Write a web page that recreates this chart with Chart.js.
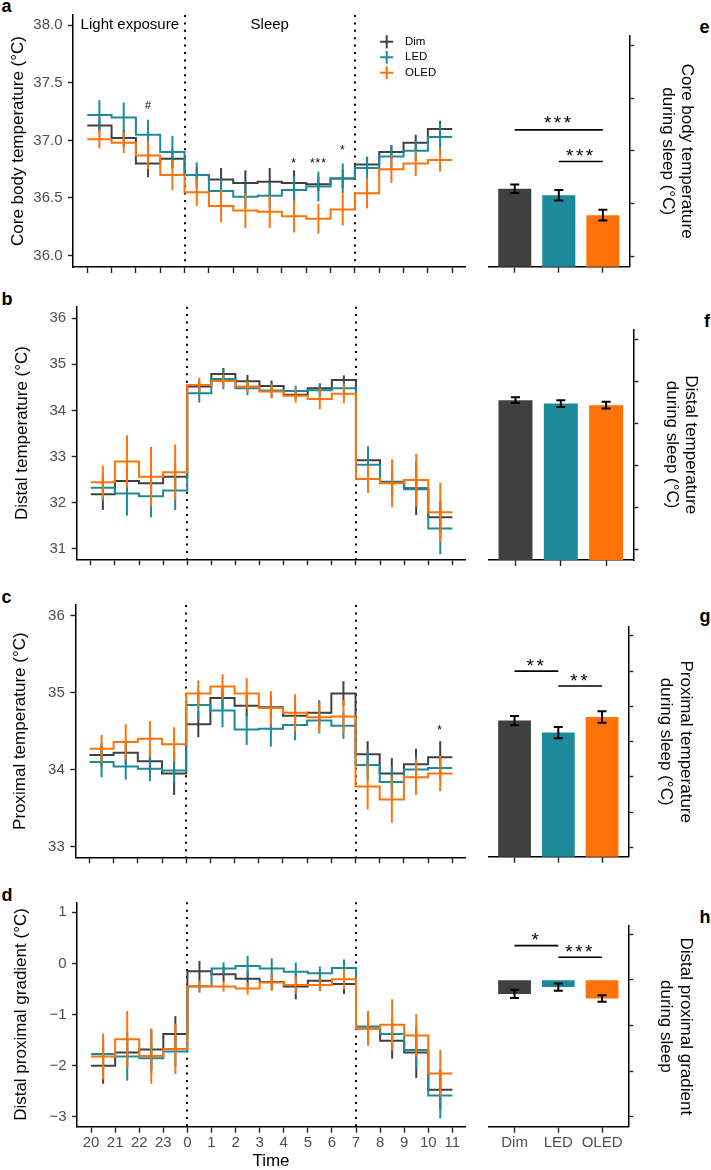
<!DOCTYPE html>
<html>
<head>
<meta charset="utf-8">
<script src="https://cdn.jsdelivr.net/npm/chart.js@4.4.1/dist/chart.umd.min.js"></script>
<style>
  html, body { margin: 0; padding: 0; background: #fff; width: 711px; height: 1170px; overflow: hidden; position: relative; }
  .lab { position: absolute; font: bold 18px "Liberation Sans", Arial, sans-serif; line-height: 18px; color: #000; }
</style>
</head>
<body>
<div class="lab" style="left:1.5px;top:-3px">a</div>
<div class="lab" style="left:1.5px;top:290px">b</div>
<div class="lab" style="left:1.5px;top:588px">c</div>
<div class="lab" style="left:1.5px;top:886px">d</div>
<div class="lab" style="left:699.5px;top:18px">e</div>
<div class="lab" style="left:704px;top:311.5px">f</div>
<div class="lab" style="left:699.5px;top:607px">g</div>
<div class="lab" style="left:699.5px;top:908px">h</div>
<script>
const FONT = '"Liberation Sans", Arial, Helvetica, sans-serif';
Chart.defaults.font.family = FONT;

// hourly bins from 20:00 to 11:00
const hourLabels = ['20', '21', '22', '23', '0', '1', '2', '3', '4', '5', '6', '7', '8', '9', '10', '11'];
const groups = ['Dim', 'LED', 'OLED'];
const colors = ['#404040', '#1c8a9b', '#ff7109'];

// core body temperature (a)
const coreDim  = [37.13, 37.02, 36.80, 36.84, 36.70, 36.66, 36.63, 36.64, 36.63, 36.62, 36.67, 36.79, 36.90, 36.98, 37.10];
const coreLED  = [37.22, 37.20, 37.05, 36.90, 36.70, 36.56, 36.51, 36.52, 36.57, 36.60, 36.67, 36.76, 36.86, 36.91, 37.03];
const coreOLED = [37.01, 36.98, 36.87, 36.70, 36.55, 36.43, 36.39, 36.38, 36.34, 36.32, 36.40, 36.54, 36.75, 36.80, 36.83];
const coreDimErr  = [0.06, 0.07, 0.12, 0.08, 0.07, 0.10, 0.11, 0.12, 0.11, 0.06, 0.08, 0.06, 0.06, 0.07, 0.07];
const coreLEDErr  = [0.13, 0.13, 0.13, 0.14, 0.11, 0.11, 0.10, 0.11, 0.12, 0.13, 0.13, 0.10, 0.10, 0.09, 0.12];
const coreOLEDErr = [0.08, 0.09, 0.12, 0.13, 0.12, 0.14, 0.15, 0.14, 0.14, 0.13, 0.14, 0.13, 0.12, 0.11, 0.10];

// distal temperature (b)
const distDim  = [32.18, 32.47, 32.42, 32.56, 34.52, 34.79, 34.63, 34.53, 34.34, 34.48, 34.66, 32.92, 32.45, 32.31, 31.68];
const distLED  = [32.32, 32.20, 32.14, 32.26, 34.37, 34.68, 34.48, 34.43, 34.42, 34.44, 34.48, 32.82, 32.44, 32.29, 31.44];
const distOLED = [32.44, 32.89, 32.56, 32.66, 34.55, 34.64, 34.52, 34.41, 34.32, 34.25, 34.36, 32.51, 32.42, 32.49, 31.79];
const distDimErr  = [0.34, 0.30, 0.30, 0.30, 0.12, 0.13, 0.14, 0.12, 0.10, 0.10, 0.10, 0.20, 0.30, 0.58, 0.35];
const distLEDErr  = [0.30, 0.48, 0.46, 0.42, 0.20, 0.22, 0.15, 0.15, 0.12, 0.15, 0.15, 0.40, 0.30, 0.35, 0.56];
const distOLEDErr = [0.36, 0.57, 0.65, 0.60, 0.16, 0.13, 0.12, 0.15, 0.15, 0.23, 0.20, 0.30, 0.52, 0.57, 0.64];

// proximal temperature (c)
const proxDim  = [34.19, 34.22, 34.11, 33.95, 34.59, 34.93, 34.83, 34.81, 34.70, 34.74, 34.99, 34.20, 33.95, 34.07, 34.16];
const proxLED  = [34.10, 34.04, 34.01, 33.99, 34.84, 34.77, 34.52, 34.53, 34.58, 34.64, 34.57, 34.06, 33.84, 34.00, 34.02];
const proxOLED = [34.27, 34.36, 34.40, 34.33, 34.99, 35.08, 34.99, 34.80, 34.74, 34.68, 34.69, 33.78, 33.61, 33.90, 33.95];
const proxDimErr  = [0.15, 0.15, 0.15, 0.28, 0.17, 0.14, 0.14, 0.14, 0.14, 0.16, 0.16, 0.17, 0.20, 0.20, 0.21];
const proxLEDErr  = [0.20, 0.17, 0.16, 0.16, 0.18, 0.22, 0.20, 0.23, 0.20, 0.17, 0.17, 0.20, 0.20, 0.17, 0.15];
const proxOLEDErr = [0.18, 0.23, 0.23, 0.22, 0.17, 0.16, 0.20, 0.22, 0.24, 0.20, 0.22, 0.30, 0.30, 0.23, 0.23];

// distal proximal gradient (d)
const gradDim  = [-2.00, -1.74, -1.68, -1.38, -0.15, -0.21, -0.30, -0.36, -0.45, -0.34, -0.40, -1.27, -1.51, -1.74, -2.47];
const gradLED  = [-1.77, -1.82, -1.85, -1.72, -0.45, -0.10, -0.05, -0.10, -0.16, -0.19, -0.09, -1.23, -1.38, -1.69, -2.58];
const gradOLED = [-1.82, -1.48, -1.81, -1.67, -0.44, -0.45, -0.49, -0.37, -0.42, -0.42, -0.31, -1.27, -1.20, -1.41, -2.15];
const gradDimErr  = [0.35, 0.30, 0.40, 0.35, 0.20, 0.15, 0.15, 0.15, 0.25, 0.20, 0.20, 0.20, 0.35, 0.50, 0.40];
const gradLEDErr  = [0.30, 0.47, 0.30, 0.30, 0.12, 0.12, 0.20, 0.20, 0.18, 0.13, 0.17, 0.30, 0.30, 0.35, 0.45];
const gradOLEDErr = [0.45, 0.55, 0.54, 0.49, 0.10, 0.10, 0.12, 0.17, 0.17, 0.12, 0.20, 0.34, 0.50, 0.42, 0.46];

// means during sleep (e-h)
const sleepCore = [36.64, 36.58, 36.39];
const sleepCoreErr = [0.04, 0.05, 0.05];
const sleepDist = [34.55, 34.47, 34.43];
const sleepDistErr = [0.07, 0.08, 0.08];
const sleepProx = [34.80, 34.63, 34.85];
const sleepProxErr = [0.066, 0.08, 0.08];
const sleepGrad = [-0.31, -0.16, -0.41];
const sleepGradErr = [0.09, 0.08, 0.07];

const coreTicks = [36.0, 36.5, 37.0, 37.5, 38.0];
const distTicks = [31, 32, 33, 34, 35, 36];
const proxTicks = [33, 34, 35, 36];
const proxBarTicks = [33, 33.5, 34, 34.5, 35, 35.5, 36];
const gradTicks = [-3, -2, -1, 0, 1];

const minus = v => (v < 0 ? '\u2212' + Math.abs(v) : String(v));

function addCanvas(left, top, w, h) {
  const c = document.createElement('canvas');
  c.width = w; c.height = h;
  c.style.cssText = `position:absolute;left:${left}px;top:${top}px;width:${w}px;height:${h}px`;
  document.body.appendChild(c);
  return c;
}

// vertical error bars drawn right after their own dataset
const errorBars = {
  id: 'errorBars',
  afterDatasetDraw(chart, args) {
    const ds = chart.data.datasets[args.index];
    if (!ds.errors) return;
    const { ctx } = chart;
    const x = chart.scales.x, y = chart.scales.y;
    ctx.save();
    ctx.strokeStyle = ds.errColor || ds.borderColor;
    ctx.lineWidth = ds.errWidth || 2;
    ds.errors.forEach((e, i) => {
      const px = x.getPixelForValue(ds.errX[i]);
      const top = y.getPixelForValue(ds.errY[i] + e);
      const bot = y.getPixelForValue(ds.errY[i] - e);
      ctx.beginPath();
      ctx.moveTo(px, top); ctx.lineTo(px, bot);
      if (ds.cap) {
        ctx.moveTo(px - ds.cap, top); ctx.lineTo(px + ds.cap, top);
        ctx.moveTo(px - ds.cap, bot); ctx.lineTo(px + ds.cap, bot);
      }
      ctx.stroke();
    });
    ctx.restore();
  }
};

// dotted phase lines, texts, significance brackets, legend
const marks = {
  id: 'marks',
  beforeDatasetsDraw(chart, args, opts) {
    if (!opts.vlines) return;
    const { ctx, chartArea: a } = chart;
    const x = chart.scales.x;
    ctx.save();
    ctx.strokeStyle = '#000';
    ctx.lineWidth = 2;
    ctx.setLineDash([2, 5.4]);
    opts.vlines.forEach(v => {
      const px = Math.round(x.getPixelForValue(v));
      ctx.beginPath(); ctx.moveTo(px, a.top); ctx.lineTo(px, a.bottom); ctx.stroke();
    });
    ctx.restore();
  },
  afterDatasetsDraw(chart, args, opts) {
    const { ctx } = chart;
    const x = chart.scales.x, y = chart.scales.y;
    ctx.save();
    ctx.strokeStyle = '#000';
    ctx.lineWidth = 1.6;
    (opts.brackets || []).forEach(b => {
      const py = y.getPixelForValue(b.y);
      ctx.beginPath();
      ctx.moveTo(x.getPixelForValue(b.x1), py);
      ctx.lineTo(x.getPixelForValue(b.x2), py);
      ctx.stroke();
    });
    (opts.texts || []).forEach(t => {
      ctx.font = `${t.size || 15}px ${FONT}`;
      ctx.fillStyle = '#000';
      ctx.textAlign = 'center';
      ctx.textBaseline = 'middle';
      ctx.letterSpacing = t.spacing || '0px';
      ctx.fillText(t.text, x.getPixelForValue(t.x), y.getPixelForValue(t.y));
    });
    ctx.letterSpacing = '0px';
    if (opts.legend) {
      const L = opts.legend;
      groups.forEach((g, i) => {
        const cx = L.x, cy = L.y + i * L.dy;
        ctx.strokeStyle = colors[i];
        ctx.lineWidth = 2;
        ctx.beginPath();
        ctx.moveTo(cx - 6.5, cy); ctx.lineTo(cx + 6.5, cy);
        ctx.moveTo(cx, cy - 6.5); ctx.lineTo(cx, cy + 6.5);
        ctx.stroke();
        ctx.fillStyle = '#000';
        ctx.font = `11.5px ${FONT}`;
        ctx.textAlign = 'left';
        ctx.textBaseline = 'middle';
        ctx.fillText(g, L.tx, cy);
      });
    }
    ctx.restore();
  }
};

const axisTicks = len => ({ drawOnChartArea: false, drawTicks: true, tickLength: len, tickColor: '#222', tickWidth: 1.4, offset: false });
const axisBorder = { display: true, color: '#000', width: 1.5 };

function lineChart(p) {
  const canvas = addCanvas(0, p.top, 470, p.height);
  const datasets = p.values.map((vals, k) => ({
    label: groups[k],
    data: vals.map((v, i) => ({ x: i, y: v })).concat([{ x: vals.length, y: vals[vals.length - 1] }]),
    borderColor: colors[k],
    borderWidth: 2,
    pointRadius: 0,
    stepped: true,
    fill: false,
    order: 3 - k,
    errors: p.errors[k],
    errX: vals.map((v, i) => i + 0.5),
    errY: vals
  }));
  new Chart(canvas, {
    type: 'line',
    data: { datasets },
    options: {
      responsive: false,
      animation: false,
      events: [],
      layout: { padding: { top: p.plotTop - p.top, right: 5, left: 0, bottom: 0 } },
      plugins: {
        legend: { display: false },
        tooltip: { enabled: false },
        marks: { vlines: [4, 11], texts: p.texts || [], legend: p.legend }
      },
      scales: {
        x: {
          type: 'linear', min: -0.585, max: 15.525,
          afterBuildTicks: s => { s.ticks = hourLabels.map((h, i) => ({ value: i })); },
          afterFit: s => { s.height = p.top + p.height - p.plotBottom; },
          grid: axisTicks(6),
          border: axisBorder,
          ticks: { display: !!p.showX, autoSkip: false, maxRotation: 0, padding: 1, color: '#4d4d4d', font: { size: 15 }, callback: v => hourLabels[v] },
          title: { display: !!p.showX, text: 'Time', color: '#000', font: { size: 17, lineHeight: 1.15 }, padding: { top: 0, bottom: 3.5 } }
        },
        y: {
          type: 'linear', min: p.range[0], max: p.range[1],
          afterBuildTicks: s => { s.ticks = p.ticks.map(v => ({ value: v })); },
          afterFit: s => { s.width = p.plotLeft; },
          grid: axisTicks(5),
          border: axisBorder,
          ticks: { padding: 5.5, color: '#4d4d4d', font: { size: 15 }, callback: p.fmt },
          title: { display: true, text: p.title, color: '#000', font: { size: 17, lineHeight: 1.15 }, padding: { top: p.tpad, bottom: 0 } }
        }
      }
    },
    plugins: [errorBars, marks]
  });
}

function barChart(p) {
  const canvas = addCanvas(470, p.top, 241, p.height);
  new Chart(canvas, {
    type: 'bar',
    data: {
      datasets: [{
        data: p.values.map((v, i) => ({ x: i + 1, y: v })),
        backgroundColor: colors,
        borderWidth: 0,
        categoryPercentage: 1,
        barPercentage: 0.75,
        errors: p.errors,
        errX: p.values.map((v, i) => i + 1),
        errY: p.values,
        errColor: '#000',
        errWidth: 2,
        cap: 4.5
      }]
    },
    options: {
      responsive: false,
      animation: false,
      events: [],
      layout: { padding: { top: p.plotTop - p.top, left: 488.3 - 470, right: 0, bottom: 0 } },
      plugins: {
        legend: { display: false },
        tooltip: { enabled: false },
        marks: { brackets: p.brackets || [], texts: p.texts || [] }
      },
      scales: {
        x: {
          type: 'linear', min: 0.4, max: 3.6, offset: false,
          afterBuildTicks: s => { s.ticks = groups.map((g, i) => ({ value: i + 1 })); },
          afterFit: s => { s.height = p.top + p.height - p.plotBottom; },
          grid: axisTicks(6),
          border: axisBorder,
          ticks: { display: !!p.showX, autoSkip: false, maxRotation: 0, padding: 1, color: '#4d4d4d', font: { size: 15 }, callback: v => groups[v - 1] }
        },
        y: {
          type: 'linear', position: 'right', beginAtZero: false, min: p.range[0], max: p.range[1],
          afterBuildTicks: s => { s.ticks = p.ticks.map(v => ({ value: v })); },
          afterFit: s => { s.width = 711 - p.plotRight; },
          grid: axisTicks(5),
          border: axisBorder,
          ticks: { display: false },
          title: { display: true, text: p.title, color: '#000', font: { size: 17, lineHeight: 1.15 }, padding: { top: p.tpad, bottom: 0 } }
        }
      }
    },
    plugins: [errorBars, marks]
  });
}

const star = (x, y, text, size) => ({ x, y, text, size, spacing: size > 14 ? '2.5px' : '1px' });

lineChart({
  top: 0, height: 285, plotLeft: 73, plotTop: 15, plotBottom: 267,
  range: [35.90, 38.09], ticks: coreTicks, fmt: v => v.toFixed(1),
  title: 'Core body temperature (°C)', tpad: 8.5,
  values: [coreDim, coreLED, coreOLED], errors: [coreDimErr, coreLEDErr, coreOLEDErr],
  texts: [
    { x: 1.75, y: 38.0, text: 'Light exposure', size: 15 },
    { x: 7.5, y: 38.0, text: 'Sleep', size: 15 },
    { x: 2.5, y: 37.30, text: '#', size: 11 },
    star(8.5, 36.80, '*', 12), star(9.5, 36.80, '***', 12), star(10.5, 36.91, '*', 12)
  ],
  legend: { x: 386.7, y: 41.7, dy: 15.5, tx: 405 }
});
lineChart({
  top: 285, height: 295, plotLeft: 76.7, plotTop: 306.7, plotBottom: 559.3,
  range: [30.77, 36.25], ticks: distTicks, fmt: v => v.toFixed(0),
  title: 'Distal temperature (°C)', tpad: 12.4,
  values: [distDim, distLED, distOLED], errors: [distDimErr, distLEDErr, distOLEDErr]
});
lineChart({
  top: 580, height: 300, plotLeft: 75.3, plotTop: 605, plotBottom: 857.3,
  range: [32.86, 36.14], ticks: proxTicks, fmt: v => v.toFixed(0),
  title: 'Proximal temperature (°C)', tpad: 10.5,
  values: [proxDim, proxLED, proxOLED], errors: [proxDimErr, proxLEDErr, proxOLEDErr],
  texts: [star(14.5, 34.50, '*', 12)]
});
lineChart({
  top: 880, height: 295, plotLeft: 77, plotTop: 902.3, plotBottom: 1126.7,
  range: [-3.19, 1.195], ticks: gradTicks, fmt: minus,
  title: 'Distal proximal gradient (°C)', tpad: 11.4, showX: true,
  values: [gradDim, gradLED, gradOLED], errors: [gradDimErr, gradLEDErr, gradOLEDErr]
});

barChart({
  top: 0, height: 285, plotRight: 629.3, plotTop: 35.7, plotBottom: 266.7,
  range: [35.90, 38.095], ticks: coreTicks,
  title: ['Core body temperature', 'during sleep (°C)'], tpad: 14.2,
  values: sleepCore, errors: sleepCoreErr,
  brackets: [{ x1: 1, x2: 3, y: 37.20 }, { x1: 2, x2: 3, y: 36.90 }],
  texts: [star(2, 37.255, '***', 19), star(2.5, 36.946, '***', 19)]
});
barChart({
  top: 285, height: 295, plotRight: 633.3, plotTop: 329.3, plotBottom: 560,
  range: [30.76, 36.23], ticks: distTicks,
  title: ['Distal temperature', 'during sleep (°C)'], tpad: 10.2,
  values: sleepDist, errors: sleepDistErr
});
barChart({
  top: 580, height: 300, plotRight: 628.3, plotTop: 626.7, plotBottom: 856.7,
  range: [32.87, 36.13], ticks: proxBarTicks,
  title: ['Proximal temperature', 'during sleep (°C)'], tpad: 15.9,
  values: sleepProx, errors: sleepProxErr,
  brackets: [{ x1: 1, x2: 2, y: 35.50 }, { x1: 2, x2: 3, y: 35.29 }],
  texts: [star(1.5, 35.56, '**', 19), star(2.5, 35.35, '**', 19)]
});
barChart({
  top: 880, height: 295, plotRight: 628.3, plotTop: 926, plotBottom: 1126.7,
  range: [-3.22, 1.18], ticks: gradTicks, showX: true,
  title: ['Distal proximal gradient', 'during sleep'], tpad: 15.5,
  values: sleepGrad, errors: sleepGradErr,
  brackets: [{ x1: 1, x2: 2, y: 0.75 }, { x1: 2, x2: 3, y: 0.496 }],
  texts: [star(1.5, 0.855, '*', 19), star(2.5, 0.59, '***', 19)]
});
</script>
</body>
</html>
